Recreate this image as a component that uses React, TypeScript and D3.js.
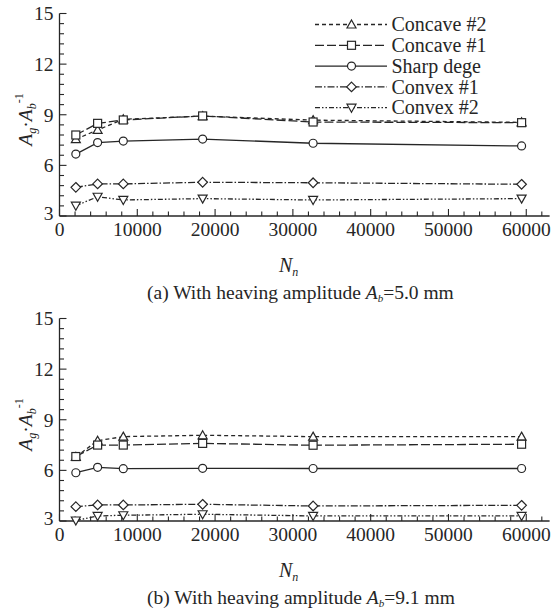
import React from "react";
import * as d3 from "d3";

const nValues = [2100, 4900, 8200, 18400, 32600, 59400];
const seriesNames = ["Concave #2", "Concave #1", "Sharp dege", "Convex #1", "Convex #2"];
const markerKinds = ["triangle", "square", "circle", "diamond", "triangleDown"];
const dashPatterns = ["4,3", "9,3", "", "7,2,1.5,2", "5,2,1.5,2,1.5,2"];

// (a) heaving amplitude 5.0 mm
const concave2A = [7.55, 8.1, 8.73, 8.92, 8.68, 8.55];
const concave1A = [7.8, 8.49, 8.69, 8.93, 8.57, 8.53];
const sharpA = [6.67, 7.35, 7.44, 7.56, 7.31, 7.15];
const convex1A = [4.7, 4.9, 4.9, 5.0, 4.97, 4.88];
const convex2A = [3.61, 4.14, 3.95, 4.03, 3.95, 4.03];

// (b) heaving amplitude 9.1 mm
const concave2B = [6.8, 7.76, 8.0, 8.08, 8.0, 8.0];
const concave1B = [6.82, 7.5, 7.5, 7.6, 7.49, 7.55];
const sharpB = [5.86, 6.18, 6.1, 6.12, 6.11, 6.11];
const convex1B = [3.85, 3.95, 3.95, 3.99, 3.89, 3.93];
const convex2B = [3.03, 3.3, 3.34, 3.4, 3.3, 3.3];

const yTicks = [3, 6, 9, 12, 15];
const xTicks = [0, 10000, 20000, 30000, 40000, 50000, 60000];

const FONT = "Liberation Serif, Times New Roman, Times, DejaVu Serif, serif";
const INK = "#262626";

function Marker({ kind, x, y }: { kind: string; x: number; y: number }) {
  const s = 4;
  const common = { fill: "white", stroke: INK, strokeWidth: 1.2 };
  if (kind === "circle") return <circle cx={x} cy={y} r={s} {...common} />;
  if (kind === "square") return <rect x={x - s} y={y - s} width={2 * s} height={2 * s} {...common} />;
  if (kind === "diamond")
    return <path d={`M${x},${y - s - 0.8}L${x + s + 0.8},${y}L${x},${y + s + 0.8}L${x - s - 0.8},${y}Z`} {...common} />;
  if (kind === "triangle")
    return <path d={`M${x},${y - s - 0.5}L${x + s + 0.5},${y + s - 0.5}L${x - s - 0.5},${y + s - 0.5}Z`} {...common} />;
  return <path d={`M${x},${y + s + 0.5}L${x + s + 0.5},${y - s + 0.5}L${x - s - 0.5},${y - s + 0.5}Z`} {...common} />;
}

function Panel({
  top,
  data,
  caption,
  capVal,
  showLegend,
}: {
  top: number;
  data: number[][];
  caption: string;
  capVal: string;
  showLegend: boolean;
}) {
  const x = d3.scaleLinear().domain([0, 63000]).range([59.5, 549.6]);
  const y = d3.scaleLinear().domain([3, 15]).range([top + 202.5, top]);
  const x0 = x(0);
  const y0 = y(3);
  const line = d3
    .line<number>()
    .x((_, i) => x(nValues[i]))
    .y((d) => y(d));
  const minorY = d3.range(3, 15.001, 0.6);
  const minorX = d3.range(0, 62001, 2000);
  const txt = { fontFamily: FONT, fill: INK } as React.CSSProperties;
  return (
    <g>
      <line x1={x0} x2={x0} y1={y(15)} y2={y0} stroke={INK} strokeWidth={1.3} />
      <line x1={x0} x2={x(63000)} y1={y0} y2={y0} stroke={INK} strokeWidth={1.3} />
      {minorY.map((v, i) => {
        const major = yTicks.some((t) => Math.abs(t - v) < 1e-6);
        return (
          <line key={"my" + i} x1={x0} x2={x0 + (major ? 7 : 4.5)} y1={y(v)} y2={y(v)} stroke={INK} strokeWidth={1.1} />
        );
      })}
      {minorX.map((v, i) => {
        const major = v % 10000 === 0;
        return (
          <line key={"mx" + i} x1={x(v)} x2={x(v)} y1={y0} y2={y0 - (major ? 7 : 4.5)} stroke={INK} strokeWidth={1.1} />
        );
      })}
      {yTicks.map((t) => (
        <text key={"yt" + t} x={x0 - 6} y={t === 3 ? y(t) - 3 : y(t)} dy="0.35em" textAnchor="end" fontSize={19.5} style={txt}>
          {t}
        </text>
      ))}
      {xTicks.map((t) => (
        <text key={"xt" + t} x={x(t)} y={y0 + 20} textAnchor="middle" fontSize={19.5} style={txt}>
          {t}
        </text>
      ))}
      <text transform={`translate(32,${top + 106}) rotate(-90)`} textAnchor="middle" fontSize={19.5} style={txt}>
        <tspan fontStyle="italic">A</tspan>
        <tspan fontStyle="italic" fontSize={12} dy={4}>g</tspan>
        <tspan dy={-4}>·</tspan>
        <tspan fontStyle="italic">A</tspan>
        <tspan fontStyle="italic" fontSize={12} dy={4}>b</tspan>
        <tspan fontSize={12} dy={-13}>-1</tspan>
      </text>
      <text x={279} y={top + 258} fontSize={20} style={txt}>
        <tspan fontStyle="italic">N</tspan>
        <tspan fontStyle="italic" fontSize={12} dy={4}>n</tspan>
      </text>
      <text x={147} y={top + 285.5} fontSize={19.5} style={txt}>
        <tspan>{caption}</tspan>
        <tspan fontStyle="italic">A</tspan>
        <tspan fontStyle="italic" fontSize={11} dy={3}>b</tspan>
        <tspan dy={-3}>{"=" + capVal + " mm"}</tspan>
      </text>
      {data.map((vals, si) => (
        <g key={"s" + si}>
          <path d={line(vals) || ""} fill="none" stroke={INK} strokeWidth={1.3} strokeDasharray={dashPatterns[si] || undefined} />
          {vals.map((v, i) => (
            <Marker key={i} kind={markerKinds[si]} x={x(nValues[i])} y={y(v)} />
          ))}
        </g>
      ))}
      {showLegend &&
        seriesNames.map((name, si) => {
          const ly = 24.5 + si * 20.8;
          return (
            <g key={"lg" + si}>
              <line x1={315} x2={387} y1={ly} y2={ly} stroke={INK} strokeWidth={1.3} strokeDasharray={dashPatterns[si] || undefined} />
              <Marker kind={markerKinds[si]} x={351.5} y={ly} />
              <text x={391.5} y={ly} dy="0.33em" fontSize={20} style={txt}>
                {name}
              </text>
            </g>
          );
        })}
    </g>
  );
}

export default function App() {
  const dataA = [concave2A, concave1A, sharpA, convex1A, convex2A];
  const dataB = [concave2B, concave1B, sharpB, convex1B, convex2B];
  return (
    <svg width={551} height={612} style={{ position: "absolute", left: 0, top: 0, background: "white" }}>
      <rect width={551} height={612} fill="white" />
      <Panel top={13.5} data={dataA} caption="(a) With heaving amplitude " capVal="5.0" showLegend={true} />
      <Panel top={318.5} data={dataB} caption="(b) With heaving amplitude " capVal="9.1" showLegend={false} />
    </svg>
  );
}
